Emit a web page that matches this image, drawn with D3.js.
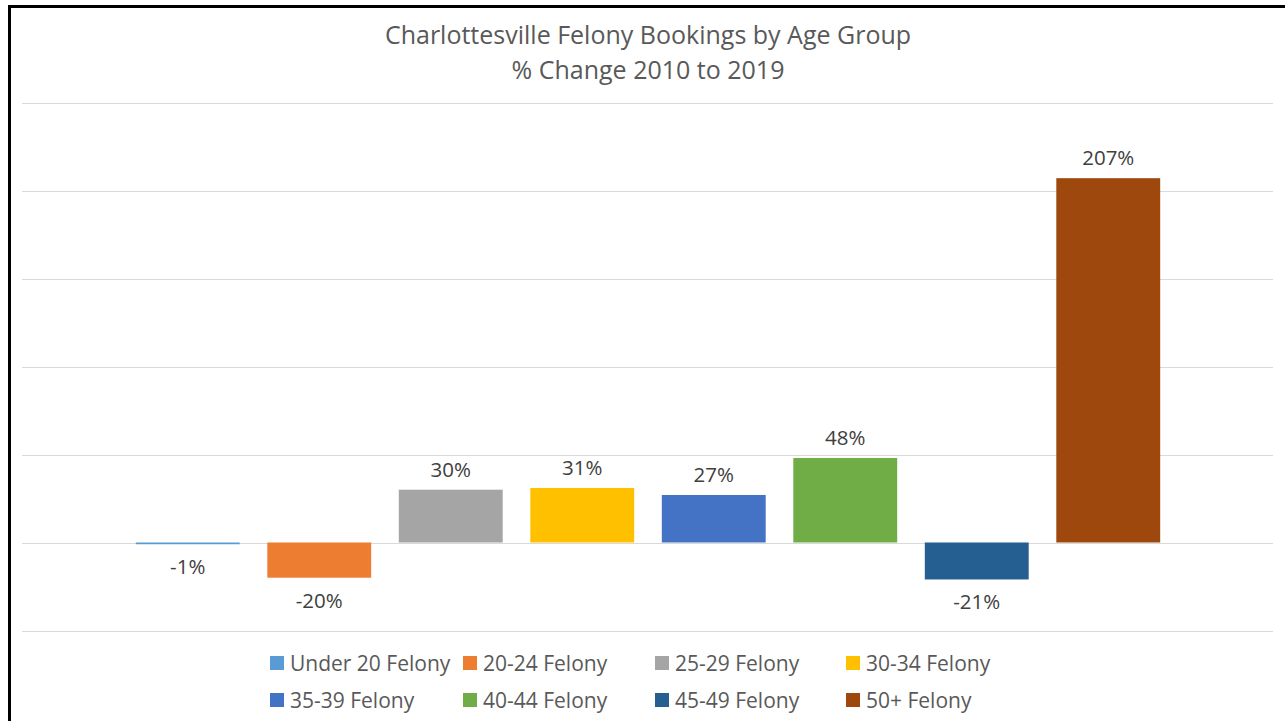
<!DOCTYPE html>
<html>
<head>
<meta charset="utf-8">
<script src="https://cdn.jsdelivr.net/npm/d3@7"></script>
<style>
  body { margin: 0; background: #fff; }
  svg { display: block; }
  text { font-family: "Open Sans", Lato, sans-serif; }
</style>
</head>
<body>
<div id="chart"></div>
<script>
// 資料
var categories = ["Under 20 Felony", "20-24 Felony", "25-29 Felony", "30-34 Felony",
                  "35-39 Felony", "40-44 Felony", "45-49 Felony", "50+ Felony"];
var values = [-1, -20, 30, 31, 27, 48, -21, 207];
var colors = ["#5B9BD5", "#ED7D31", "#A5A5A5", "#FFC000",
              "#4472C4", "#70AD47", "#255E91", "#9E480E"];
var yTicks = [-50, 0, 50, 100, 150, 200, 250];
var titleLines = ["Charlottesville Felony Bookings by Age Group", "% Change 2010 to 2019"];

var width = 1285, height = 721;

var svg = d3.select("#chart").append("svg")
    .attr("width", width)
    .attr("height", height);

// 外框
svg.append("rect")
    .attr("x", 9.5).attr("y", 6.5)
    .attr("width", width + 10).attr("height", height + 10)
    .attr("fill", "none")
    .attr("stroke", "#000")
    .attr("stroke-width", 3);

var x = d3.scaleBand()
    .domain(categories)
    .range([122, 1174])
    .paddingInner(0.21)
    .paddingOuter(0.105);

var y = d3.scaleLinear()
    .domain([-50, 250])
    .range([630.5, 102.5]);

// 格線
svg.append("g").selectAll("line")
    .data(yTicks)
    .enter().append("line")
    .attr("x1", 22).attr("x2", 1273)
    .attr("y1", function(d){ return Math.round(y(d)) + 0.5; })
    .attr("y2", function(d){ return Math.round(y(d)) + 0.5; })
    .attr("stroke", "#D9D9D9")
    .attr("stroke-width", 1);

// 長條
svg.append("g").selectAll("rect")
    .data(values)
    .enter().append("rect")
    .attr("x", function(d, i){ return x(categories[i]); })
    .attr("width", x.bandwidth())
    .attr("y", function(d){ return y(Math.max(0, d)); })
    .attr("height", function(d){ return Math.abs(y(d) - y(0)); })
    .attr("fill", function(d, i){ return colors[i]; });

// 數值標籤
svg.append("g").selectAll("text")
    .data(values)
    .enter().append("text")
    .attr("x", function(d, i){ return x(categories[i]) + x.bandwidth() / 2; })
    .attr("y", function(d){ return d >= 0 ? y(d) - 13 : y(d) + 30; })
    .attr("text-anchor", "middle")
    .attr("font-size", "20.5px")
    .attr("fill", "#404040")
    .text(function(d){ return d + "%"; });

// 標題
svg.append("g").selectAll("text")
    .data(titleLines)
    .enter().append("text")
    .attr("x", 648)
    .attr("y", function(d, i){ return 44 + i * 35; })
    .attr("text-anchor", "middle")
    .attr("font-size", "25px")
    .attr("fill", "#595959")
    .text(function(d){ return d; });

// 圖例
var legendX = [270, 463, 655, 846];
var legend = svg.append("g").selectAll("g")
    .data(categories)
    .enter().append("g")
    .attr("transform", function(d, i){
        return "translate(" + legendX[i % 4] + "," + (663 + Math.floor(i / 4) * 37) + ")";
    });

legend.append("rect")
    .attr("x", 0).attr("y", -7)
    .attr("width", 14).attr("height", 14)
    .attr("fill", function(d, i){ return colors[i]; });

legend.append("text")
    .attr("x", 20).attr("y", 7.5)
    .attr("font-size", "21px")
    .attr("fill", "#595959")
    .text(function(d){ return d; });
</script>
</body>
</html>
